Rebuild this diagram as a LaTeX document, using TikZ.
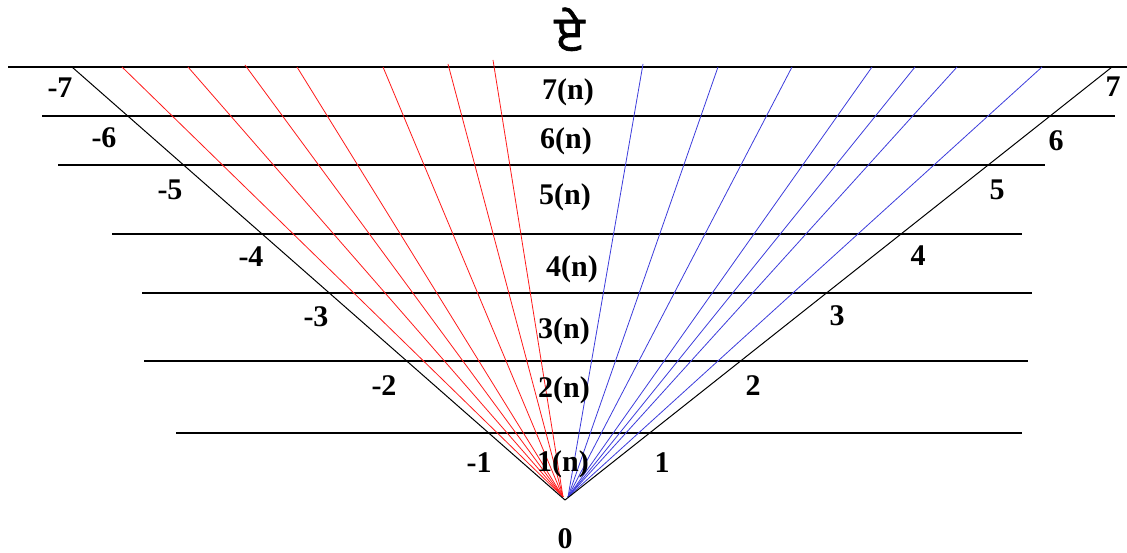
\documentclass[tikz,border=0pt]{standalone}
\usepackage{fontspec}
\setmainfont{Liberation Serif}
\newfontfamily\gurfont[Script=Gurmukhi, FakeBold=1.2]{Hind Jalandhar}
\usepackage{tikz}
\usetikzlibrary{positioning}
\definecolor{FanRed}{HTML}{FF1A1A}
\definecolor{FanBlue}{HTML}{3C3CDC}
\tikzset{
  levelline/.style={black, line width=1.6pt},
  armline/.style={black, line width=1pt},
  redray/.style={FanRed, line width=0.8pt},
  blueray/.style={FanBlue, line width=0.8pt},
  numlab/.style={font=\bfseries\fontsize{30}{30}\selectfont, inner sep=0pt,
    text height=20.4pt, text depth=0pt}
}
\begin{document}
\begin{tikzpicture}[x=1pt, y=-1pt]
  \useasboundingbox (0,0) rectangle (1127,553);

  % apex of the V and feet of the two fans
  \coordinate (O) at (565,500);
  \coordinate (redfoot) at (563,497);
  \coordinate (bluefoot) at (568,497);

  % Level lines 1..7
  \foreach \k/\y/\xa/\xb in {7/67/8/1127, 6/116/42/1115, 5/165/58/1045,
      4/234/112/1022, 3/293/142/1032, 2/361/144/1028, 1/433/176/1022} {
    \coordinate (lev\k a) at (\xa,\y);
    \coordinate (lev\k b) at (\xb,\y);
    \draw[levelline] (lev\k a) -- (lev\k b);
  }

  % Red fan (left)
  \foreach \x/\y [count=\i] in {122/67, 188/67, 245/65, 297/67, 383/67, 448/64, 493/60} {
    \coordinate (red\i) at (\x,\y);
    \draw[redray] (redfoot) -- (red\i);
  }
  % Blue fan (right)
  \foreach \x/\y [count=\i] in {643/64, 718/67, 792/67, 872/67, 915/67, 957/67, 1042/67} {
    \coordinate (blue\i) at (\x,\y);
    \draw[blueray] (bluefoot) -- (blue\i);
  }

  % the two arms of the V
  \coordinate (armL) at (72,67);
  \coordinate (armR) at (1112,67);
  \draw[armline] (O) -- (armL);
  \draw[armline] (O) -- (armR);

  % heading
  \node[font=\gurfont\fontsize{50}{50}\selectfont, inner sep=0pt, anchor=base,
    text height=36pt, text depth=0pt] (head) at (569,52) {ਏ};

  % level labels in the middle
  \foreach \k/\x/\y in {7/568/89, 6/566/138, 5/565/194, 4/572/266,
      3/564/328, 2/564/387, 1/563/461}
    \node[numlab] (mid\k) at (\x,\y) {\k(n)};

  % negative side
  \foreach \k/\x/\y in {7/60/87, 6/104/137, 5/170/189, 4/251/256,
      3/316/316, 2/384/385, 1/479/462}
    \node[numlab] (neg\k) at (\x,\y) {-\k};

  % positive side
  \foreach \k/\x/\y in {7/1113/86, 6/1056/140, 5/997/189, 4/918/255,
      3/837/315, 2/753/385, 1/662/462}
    \node[numlab] (pos\k) at (\x,\y) {\k};

  \node[numlab] (zero) at (565,538) {0};
\end{tikzpicture}
\end{document}
